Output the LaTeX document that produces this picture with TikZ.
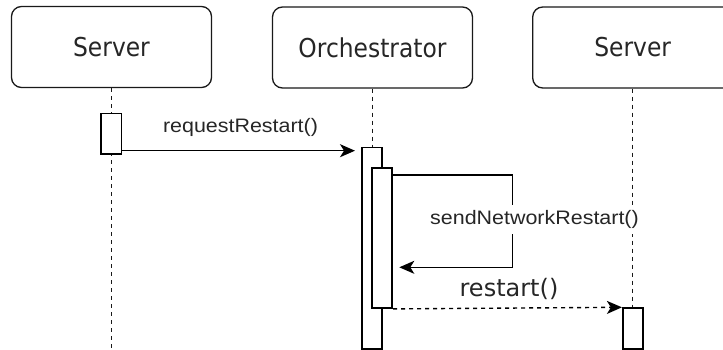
\documentclass[tikz,border=0pt]{standalone}
\usepackage{fontspec}
\newfontfamily\boxfont{DejaVu Sans}[FakeStretch=0.9]
\newfontfamily\retfont{DejaVu Sans}
\newfontfamily\msgfont{Liberation Sans}[FakeStretch=1.1]
\usetikzlibrary{arrows.meta}
\begin{document}
\begin{tikzpicture}[x=1pt,y=-1pt,
  actor/.style={draw=black!90, line width=1.3pt, rounded corners=10pt, minimum width=200pt, minimum height=81pt, inner sep=0pt, font=\boxfont\fontsize{26}{30}\selectfont, text=black!85},
  lifeline/.style={draw=black!90, line width=1.3pt, dash pattern=on 4pt off 4pt},
  activation/.style={draw=black, fill=white, line width=1.6pt, minimum width=20.5pt, inner sep=0pt, anchor=north},
  msg/.style={draw=black, line width=1.4pt, -{Stealth[length=15pt,width=13pt,inset=4pt]}},
  msglabel/.style={font=\msgfont\fontsize{19.5}{22}\selectfont, text=black!85, inner sep=1pt},
  retlabel/.style={font=\retfont\fontsize{24}{28}\selectfont, text=black!85, inner sep=1pt}
]
\useasboundingbox (0,0) rectangle (723,350);
\clip (0,0) rectangle (723,350);
% actors
\node[actor] (s1) at (111.5,47) {Server};
\node[actor] (or) at (372.5,47.5) {Orchestrator};
\node[actor] (s2) at (632.7,47.5) {Server};
% lifeline ends
\coordinate (s1bot) at (111.5,352);
\coordinate (orbot) at (372.5,352);
\coordinate (s2bot) at (632.7,352);
\draw[lifeline] (s1.south) -- (s1bot);
\draw[lifeline] (or.south) -- (orbot);
\draw[lifeline] (s2.south) -- (s2bot);
% activations
\node[activation, minimum height=40.3pt] (a1) at (111.2,112.7) {};
\node[activation, minimum height=201.3pt] (a2) at (372,146.7) {};
\node[activation, minimum height=140pt] (a3) at (382,167.3) {};
\node[activation, minimum height=41pt, minimum width=20pt] (a4) at (632.7,307.3) {};
% message 1
\coordinate (m1end) at (355,150.7);
\draw[msg] (a1.east |- m1end) -- (m1end);
\node[msglabel] (l1) at (240.5,127) {requestRestart()};
% self message
\coordinate (c1) at (512.7,175);
\coordinate (c2) at (512.7,267.3);
\coordinate (m2end) at (399.3,267.3);
\draw[msg] (a3.east |- c1) -- (c1) -- (c2) -- (m2end);
\node[msglabel, fill=white, inner ysep=5pt] (l2) at (534.5,219.5) {sendNetworkRestart()};
% return / restart
\draw[msg, dash pattern=on 4pt off 4pt] (a3.south east) -- (a4.north west);
\node[retlabel] (l3) at (509,289) {restart()};
\end{tikzpicture}
\end{document}
